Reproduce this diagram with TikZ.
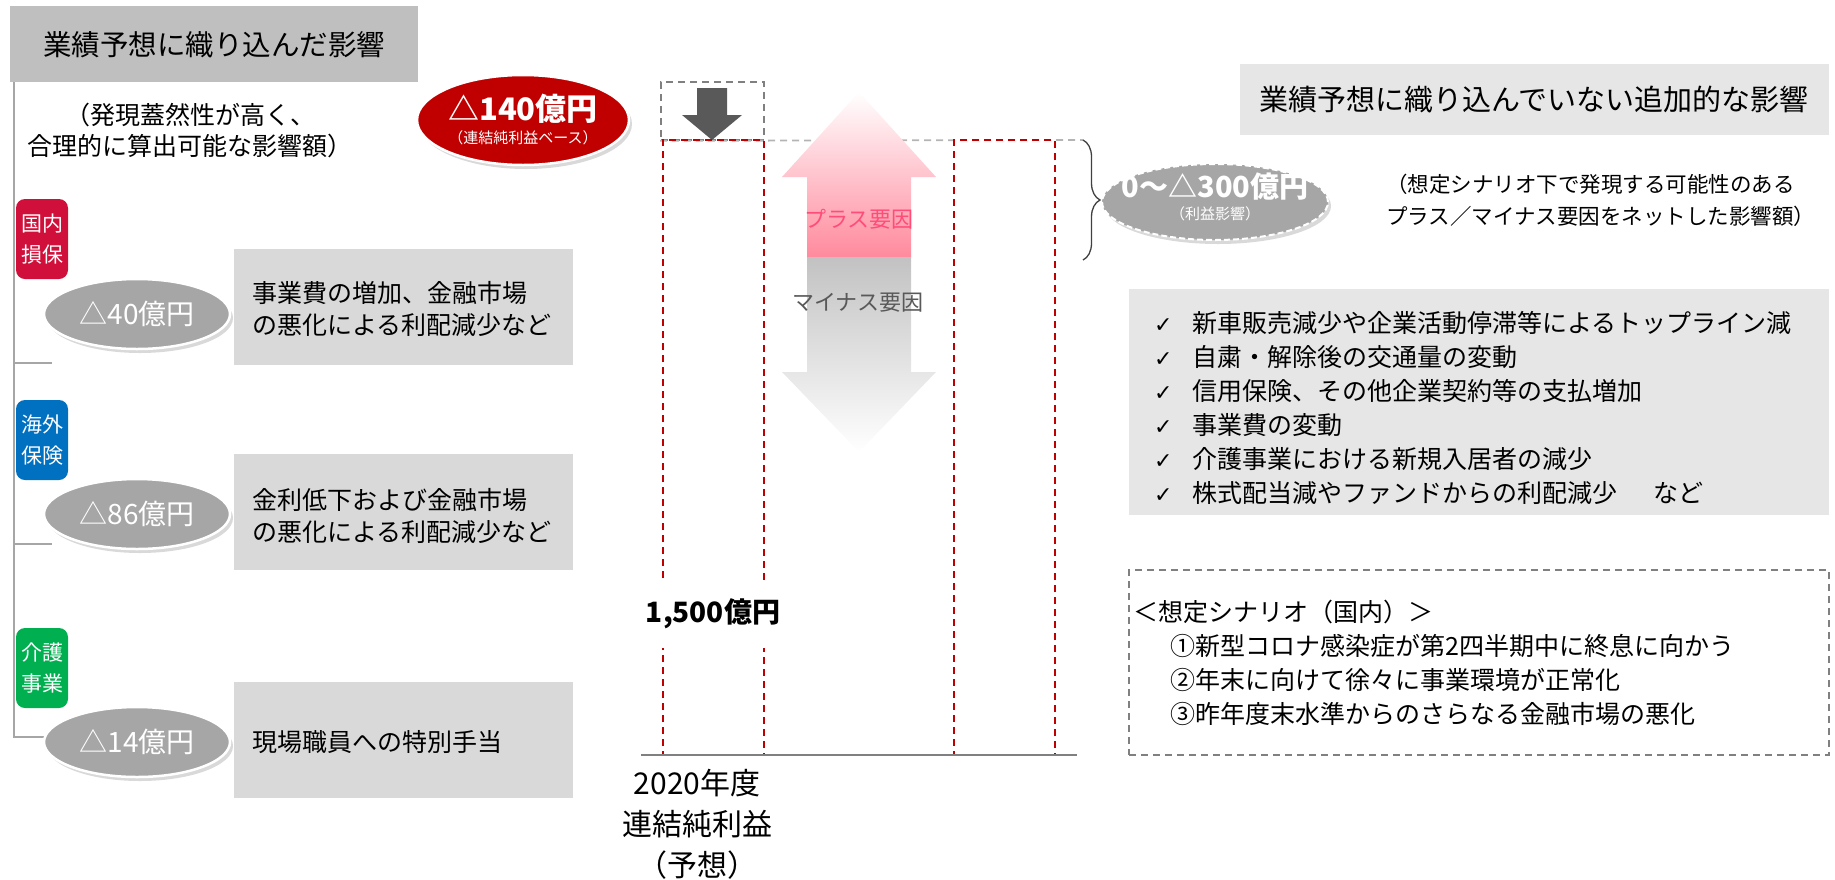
\documentclass[tikz,border=0pt]{standalone}
\usepackage{fontspec}
\setmainfont{Noto Sans CJK JP}
\newfontfamily\djv{DejaVu Sans}
\usetikzlibrary{shadows,decorations.pathreplacing,shapes.geometric}
\definecolor{hdrgray}{HTML}{BFBFBF}
\definecolor{lightbox}{HTML}{E7E6E6}
\definecolor{boxgray}{HTML}{D9D9D9}
\definecolor{ellgray}{HTML}{A6A6A6}
\definecolor{darkred}{HTML}{C00000}
\definecolor{badgered}{HTML}{D0103A}
\definecolor{badgeblue}{HTML}{0070C0}
\definecolor{badgegreen}{HTML}{00B050}
\definecolor{pinktext}{HTML}{FF4D79}
\definecolor{pinkmid}{HTML}{FFBAC6}
\definecolor{pinkdeep}{HTML}{FF8A9D}
\definecolor{arrgray}{HTML}{C2C2C2}
\definecolor{darkarrow}{HTML}{595959}
\definecolor{treeline}{HTML}{A6A6A6}
\definecolor{dashgray}{HTML}{808080}
\definecolor{lightdash}{HTML}{B4B4B4}
\newcommand\myfs[2]{\fontsize{#1}{#2}\selectfont}
\newcommand\chk{\makebox[38pt][l]{\djv\myfs{22}{34}✓}}
\begin{document}
\begin{tikzpicture}[x=1pt,y=-1pt,
  plain/.style={inner sep=0pt},
  hdrbox/.style={fill=hdrgray, inner sep=0pt},
  lbox/.style={fill=lightbox, inner sep=0pt},
  gbox/.style={fill=boxgray, minimum width=339, minimum height=116, inner sep=0pt},
  badge/.style={rounded corners=9pt, minimum width=52, minimum height=80, inner sep=0pt, text=white, align=center, font=\myfs{21}{31}},
  gell/.style={ellipse, fill=ellgray, draw=white, line width=2.5pt, minimum width=186, minimum height=70, inner sep=0pt,
     drop shadow={opacity=0.3, shadow xshift=3pt, shadow yshift=-4pt}},
  elltext/.style={text=white, inner sep=0pt, font=\myfs{28}{32}},
  boxtext/.style={anchor=west, align=left, inner sep=0pt, font=\myfs{25}{32}},
  treeln/.style={draw=treeline, line width=2pt},
  reddash/.style={draw=darkred, dash pattern=on 7pt off 5pt, line width=1.8pt, inner sep=0pt},
  graydash/.style={draw=lightdash, dash pattern=on 7pt off 5pt, line width=1.8pt},
  boxdash/.style={draw=dashgray, dash pattern=on 7pt off 5pt, line width=1.6pt, inner sep=0pt},
  bracestyle/.style={draw=black!75, line width=1.3pt, decorate, decoration={brace, amplitude=17pt}},
]
\useasboundingbox (0,0) rectangle (1835,879);

% ---------- left column ----------
\node[hdrbox, minimum width=408, minimum height=76] (hdrL) at (214,44) {};
\node[plain, font=\myfs{28.5}{34}] (hdrLt) at (214,45) {業績予想に織り込んだ影響};
\node[plain, align=center, font=\myfs{25}{31}] (subL) at (190,130) {（発現蓋然性が高く、\\合理的に算出可能な影響額）};

\coordinate (tr0) at (14,82);
\coordinate (tk1) at (52,363);
\coordinate (tk2) at (52,544);
\coordinate (tk3) at (60,737);
\draw[treeln] (tr0) -- (tr0 |- tk3) -- (tk3);
\draw[treeln] (tr0 |- tk1) -- (tk1);
\draw[treeln] (tr0 |- tk2) -- (tk2);

\node[ellipse, fill=darkred, draw=white, line width=2.5pt, minimum width=212, minimum height=90, inner sep=0pt,
      drop shadow={opacity=0.3, shadow xshift=3pt, shadow yshift=-4pt}] (redE) at (523,120) {};
\node[plain, text=white, font=\myfs{31}{34}\bfseries] (redT) at (523,109) {△140億円};
\node[plain, text=white, font=\myfs{15}{18}] (redS) at (523,138) {（連結純利益ベース）};

\node[badge, fill=badgered] (bdg1) at (42,239) {国内\\損保};
\node[gell] (e1) at (137,314) {};
\node[elltext] (e1t) at (137,314) {△40億円};
\node[gbox] (b1) at (403.5,307) {};
\node[boxtext] (b1t) at (252,309) {事業費の増加、金融市場\\の悪化による利配減少など};

\node[badge, fill=badgeblue] (bdg2) at (42,440) {海外\\保険};
\node[gell] (e2) at (137,514) {};
\node[elltext] (e2t) at (137,514) {△86億円};
\node[gbox] (b2) at (403.5,512) {};
\node[boxtext] (b2t) at (252,516) {金利低下および金融市場\\の悪化による利配減少など};

\node[badge, fill=badgegreen] (bdg3) at (42,668) {介護\\事業};
\node[gell] (e3) at (137,742) {};
\node[elltext] (e3t) at (137,742) {△14億円};
\node[gbox] (b3) at (403.5,740) {};
\node[boxtext] (b3t) at (252,742) {現場職員への特別手当};

% ---------- centre column ----------
\coordinate (brc1) at (1083,140);
\coordinate (brc2) at (1083,260);
\node[boxdash, minimum width=103, minimum height=58] (dbox) at (712.5,111) {};
\draw[graydash] (dbox.south west) -- (brc1);
\fill[darkarrow] (697,88) -- (727,88) -- (727,115) -- (742,115) -- (712,140) -- (682,115) -- (697,115) -- cycle;

\shade[top color=white, middle color=pinkmid, bottom color=pinkdeep]
  (807,257) -- (807,177) -- (782,177) -- (859,92) -- (936,177) -- (911,177) -- (911,257) -- cycle;
\shade[top color=arrgray, bottom color=white]
  (807,257) -- (911,257) -- (911,372) -- (936,372) -- (859,452) -- (782,372) -- (807,372) -- cycle;
\node[plain, text=pinktext, font=\myfs{22}{26}] (plus) at (859,219) {プラス要因};
\node[plain, text=darkarrow, font=\myfs{22}{26}] (minus) at (858,303) {マイナス要因};

\node[reddash, minimum width=101, minimum height=615] (bar1) at (713.5,447.5) {};
\node[reddash, minimum width=101, minimum height=615] (bar2) at (1004.5,447.5) {};
\coordinate (ax0) at (641,755);
\coordinate (ax1) at (1077,755);
\draw[draw=dashgray, line width=2pt] (ax0) -- (ax1);
\node[fill=white, inner xsep=3pt, inner ysep=0pt, minimum height=67, font=\myfs{28}{32}\bfseries] (val) at (713,614) {1,500億円};
\node[plain, align=center, font=\myfs{30}{41}] (lbl) at (697,824) {2020年度\\連結純利益\\（予想）};

% ---------- right column ----------
\draw[bracestyle] (brc1) -- (brc2);
\node[ellipse, fill=ellgray, draw=white, dash pattern=on 6pt off 3pt, line width=2pt, minimum width=226, minimum height=76, inner sep=0pt,
      drop shadow={opacity=0.3, shadow xshift=3pt, shadow yshift=-4pt}] (e4) at (1215,202) {};
\node[plain, text=white, font=\myfs{29}{32}\bfseries] (e4t) at (1215,187) {0～△300億円};
\node[plain, text=white, font=\myfs{15}{18}] (e4s) at (1215,214) {（利益影響）};

\node[lbox, minimum width=589, minimum height=71] (hdrR) at (1534.5,99.5) {};
\node[plain, font=\myfs{29}{34}] (hdrRt) at (1534,100) {業績予想に織り込んでいない追加的な影響};
\node[plain, anchor=west, align=left, font=\myfs{21.5}{32}] (subR) at (1386,200) {（想定シナリオ下で発現する可能性のある\\プラス／マイナス要因をネットした影響額）};

\node[lbox, minimum width=700, minimum height=226] (lst) at (1479,402) {};
\node[plain, anchor=west, align=left, font=\myfs{25}{34}] (lstt) at (1154,408) {%
\chk 新車販売減少や企業活動停滞等によるトップライン減\\
\chk 自粛・解除後の交通量の変動\\
\chk 信用保険、その他企業契約等の支払増加\\
\chk 事業費の変動\\
\chk 介護事業における新規入居者の減少\\
\chk 株式配当減やファンドからの利配減少\hspace{36pt}など};

\node[boxdash, minimum width=700, minimum height=185] (scn) at (1479,662.5) {};
\node[plain, anchor=west, align=left, font=\myfs{25}{34}] (scnt) at (1133,663) {%
＜想定シナリオ（国内）＞\\
\hspace{37pt}①新型コロナ感染症が第2四半期中に終息に向かう\\
\hspace{37pt}②年末に向けて徐々に事業環境が正常化\\
\hspace{37pt}③昨年度末水準からのさらなる金融市場の悪化};
\end{tikzpicture}
\end{document}
